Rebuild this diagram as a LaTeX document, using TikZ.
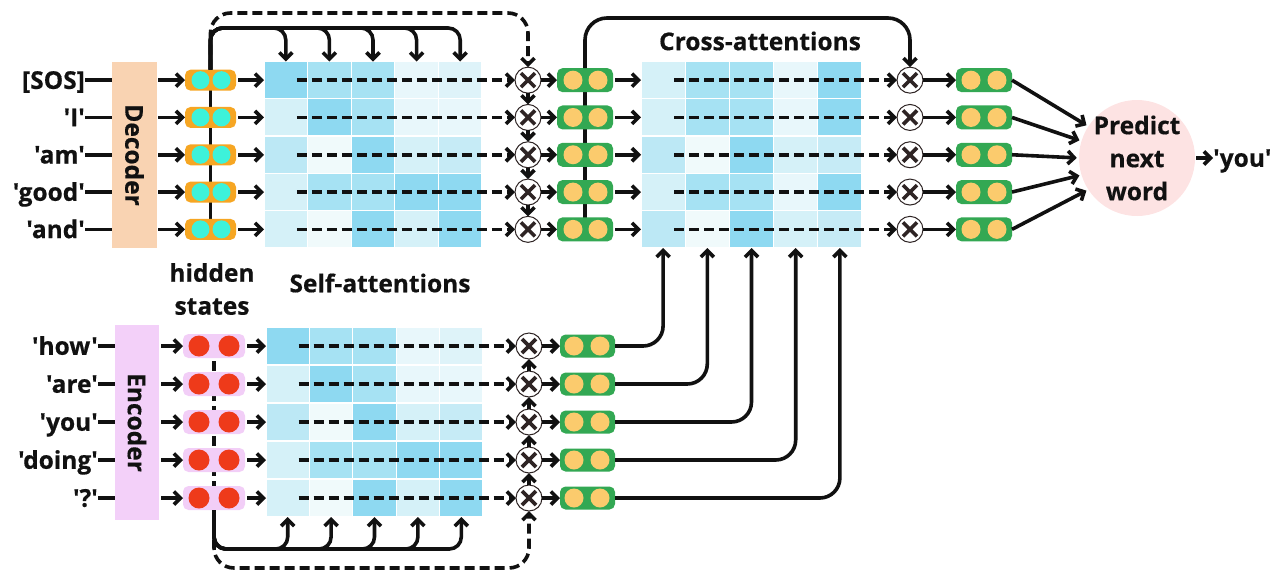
\documentclass[tikz,border=0pt]{standalone}
\usepackage{fontspec}
\newfontfamily\diag{Open Sans}[BoldFeatures={FakeBold=0.5}]
\usetikzlibrary{arrows.meta,calc}
\pgfdeclarelayer{bg}
\pgfsetlayers{bg,main}

% heat-map shades, darkest to lightest
\definecolor{hA}{HTML}{8ED9F1}
\definecolor{hB}{HTML}{A6E2F3}
\definecolor{hC}{HTML}{BCE8F5}
\definecolor{hCb}{HTML}{C6EBF6}
\definecolor{hD}{HTML}{D5F1F8}
\definecolor{hDE}{HTML}{DEF3F9}
\definecolor{hE}{HTML}{E8F7FB}
\definecolor{hF}{HTML}{F0FAFB}
% blocks and vectors
\definecolor{decfill}{HTML}{F9D3B2}
\definecolor{encfill}{HTML}{F3D0F9}
\definecolor{orangepill}{HTML}{F6A623}
\definecolor{cyandot}{HTML}{3DF2DA}
\definecolor{lilacpill}{HTML}{F2CEF7}
\definecolor{reddot}{HTML}{EE3A1A}
\definecolor{greenpill}{HTML}{33A853}
\definecolor{yellowdot}{HTML}{FBCB6D}
\definecolor{predfill}{HTML}{FDE3E3}
\definecolor{ink}{HTML}{111111}
\definecolor{xink}{HTML}{2E2424}

\begin{document}
\begin{tikzpicture}[x=1pt,y=-1pt,
  txt/.style={font=\diag\bfseries\fontsize{24.5}{33}\selectfont, inner sep=0pt, text=ink},
  lbl/.style={txt, anchor=east, text height=17.5pt, text depth=0pt},
  box/.style={rectangle, inner sep=0pt, outer sep=0pt},
  pill/.style={rectangle, rounded corners=5.5pt, inner sep=0pt, outer sep=0pt},
  dot/.style={circle, inner sep=0pt, outer sep=0pt},
  cell/.style={rectangle, inner sep=0pt, outer sep=0pt, draw=white, line width=1.3pt},
  mult/.style={circle, minimum size=26pt, inner sep=0pt, outer sep=0pt, draw=xink, line width=1pt, fill=white,
    path picture={\draw[xink, line width=3.6pt]
      ($(path picture bounding box.center)+(-7,-7)$) -- ($(path picture bounding box.center)+(7,7)$)
      ($(path picture bounding box.center)+(-7,7)$) -- ($(path picture bounding box.center)+(7,-7)$);}},
  ln/.style={draw=ink, line width=3.6pt},
  dln/.style={ln, dash pattern=on 10pt off 5pt},
  arr/.style={ln, -{Straight Barb[length=6.5pt,width=13pt]}},
  darr/.style={arr, dash pattern=on 10pt off 5pt},
]
\useasboundingbox (0,0) rectangle (1272,574);

% levels of the loop lines
\coordinate (dtop) at (0,28);
\coordinate (dloop) at (0,13);
\coordinate (gtop) at (0,18);
\coordinate (ebot) at (0,549);
\coordinate (eloop) at (0,568);

% decoder and encoder blocks
\node[box, fill=decfill, minimum width=45pt, minimum height=186pt] (dec) at (134.5,155) {};
\node[txt, rotate=-90] (dect) at (dec.center) {Decoder};
\node[box, fill=encfill, minimum width=44pt, minimum height=195pt] (enc) at (137,422.5) {};
\node[txt, rotate=-90] (enct) at (enc.center) {Encoder};

% attention heat maps
\foreach \rowcols [count=\r] in {{hA,hB,hB,hE,hDE},{hD,hA,hB,hE,hE},{hC,hF,hA,hD,hCb},{hD,hB,hB,hA,hA},{hD,hF,hA,hD,hA}} {
  \foreach \cc [count=\c] in \rowcols {
    \node[cell, fill=\cc, minimum width=43.6pt, minimum height=37.3pt] (D-\r-\c) at ({264+(\c-0.5)*43.6},{61.5+(\r-0.5)*37.3}) {};
    \node[cell, fill=\cc, minimum width=43.4pt, minimum height=38pt] (E-\r-\c) at ({266+(\c-0.5)*43.4},{327+(\r-0.5)*38}) {};
  }
}
\foreach \rowcols [count=\r] in {{hD,hB,hB,hE,hA},{hD,hB,hB,hE,hA},{hC,hF,hA,hD,hCb},{hD,hB,hB,hE,hA},{hC,hF,hA,hD,hCb}} {
  \foreach \cc [count=\c] in \rowcols {
    \node[cell, fill=\cc, minimum width=44.2pt, minimum height=37.3pt] (C-\r-\c) at ({641+(\c-0.5)*44.2},{61.5+(\r-0.5)*37.3}) {};
  }
}

% decoder rows
\foreach \w [count=\r] in {{[SOS]},'I','am','good','and'} {
  \pgfmathsetmacro{\y}{61.5+(\r-0.5)*37.3}
  \node[lbl] (dl\r) at (85,\y) {\w};
  \node[pill, fill=orangepill, minimum width=51pt, minimum height=21pt] (dp\r) at (210.5,\y) {};
  \node[dot, fill=cyandot, minimum size=18pt] (dpa\r) at (200.5,\y) {};
  \node[dot, fill=cyandot, minimum size=18pt] (dpb\r) at (221.5,\y) {};
  \node[mult] (dm\r) at (528,\y) {};
  \node[pill, fill=greenpill, minimum width=56pt, minimum height=24pt] (dg\r) at (585,\y) {};
  \node[dot, fill=yellowdot, minimum size=19pt] (dga\r) at (573,\y) {};
  \node[dot, fill=yellowdot, minimum size=19pt] (dgb\r) at (598,\y) {};
  \node[mult] (cm\r) at (910,\y) {};
  \node[pill, fill=greenpill, minimum width=56pt, minimum height=24pt] (og\r) at (984,\y) {};
  \node[dot, fill=yellowdot, minimum size=19pt] (oga\r) at (971,\y) {};
  \node[dot, fill=yellowdot, minimum size=19pt] (ogb\r) at (997,\y) {};
}

% encoder rows
\foreach \w [count=\r] in {'how','are','you','doing','?'} {
  \pgfmathsetmacro{\y}{327+(\r-0.5)*38}
  \node[lbl] (el\r) at (98,\y) {\w};
  \node[pill, fill=lilacpill, minimum width=62pt, minimum height=24pt] (ep\r) at (214,\y) {};
  \node[dot, fill=reddot, minimum size=21pt] (epa\r) at (199,\y) {};
  \node[dot, fill=reddot, minimum size=21pt] (epb\r) at (229,\y) {};
  \node[mult] (em\r) at (529,\y) {};
  \node[pill, fill=greenpill, minimum width=55pt, minimum height=23pt] (eg\r) at (587.5,\y) {};
  \node[dot, fill=yellowdot, minimum size=19pt] (ega\r) at (574,\y) {};
  \node[dot, fill=yellowdot, minimum size=19pt] (egb\r) at (600,\y) {};
}

% prediction
\node[circle, fill=predfill, minimum size=116pt, inner sep=0pt] (pred) at (1137,158) {};
\node[txt, align=center] (predt) at (pred.center) {Predict\\next\\word};
\node[txt, anchor=west, text height=17.5pt, text depth=0pt] (you) at (1213,158) {'you'};

% captions
\node[txt, align=center] (hs) at (212,289) {hidden\\states};
\node[txt] (sa) at (380,283) {Self-attentions};
\node[txt] (ca) at (760,41) {Cross-attentions};

% trunks running behind the vectors
\begin{pgfonlayer}{bg}
  \draw[ln] (dp5.center) -- (dp1.north);
  \draw[ln] (dg5.center) -- (dg1.north);
  \draw[dln] (ep1.center) -- (ep5.south);
\end{pgfonlayer}

% per-row connectors
\foreach \r in {1,...,5} {
  \draw[ln] (dl\r.east) -- (dl\r.east -| dec.west);
  \draw[arr, shorten <=1pt] (dec.east |- dp\r.west) -- (dp\r.west);
  \draw[arr, shorten <=2pt] (dp\r.east) -- (D-\r-1.west);
  \draw[darr] ([xshift=11pt]D-\r-1.center) -- (dm\r.west);
  \draw[arr] (dm\r.east) -- (dg\r.west);
  \draw[arr, shorten <=2pt] (dg\r.east) -- (C-\r-1.west);
  \draw[darr] ([xshift=11pt]C-\r-1.center) -- (cm\r.west);
  \draw[arr] (cm\r.east) -- (og\r.west);

  \draw[ln] (el\r.east) -- (el\r.east -| enc.west);
  \draw[arr, shorten <=2pt] (enc.east |- ep\r.west) -- (ep\r.west);
  \draw[arr, shorten <=2pt] (ep\r.east) -- (E-\r-1.west);
  \draw[darr] ([xshift=11pt]E-\r-1.center) -- (em\r.west);
  \draw[arr] (em\r.east) -- (eg\r.west);
  \draw[arr, rounded corners=20pt] (eg\r.east) -- (C-5-\r.south |- eg\r.east) -- (C-5-\r.south);
}

% chained products
\foreach \r [evaluate=\r as \n using int(\r+1)] in {1,...,4} {
  \draw[arr] (dm\r.south) -- (dm\n.north);
  \draw[arr] (em\n.north) -- (em\r.south);
}

% hidden states fanned into every attention column
\foreach \c in {1,...,5} {
  \draw[arr, rounded corners=12pt] (dp1.north) -- (dp1.north |- dtop) -- (D-1-\c.north |- dtop) -- (D-1-\c.north);
  \draw[arr, rounded corners=12pt] (ep5.south) -- (ep5.south |- ebot) -- (E-5-\c.south |- ebot) -- (E-5-\c.south);
}
\draw[darr, rounded corners=20pt] (dp1.north) -- (dp1.north |- dloop) -- (dm1.north |- dloop) -- (dm1.north);
\draw[darr, rounded corners=20pt] (ep5.south) -- (ep5.south |- eloop) -- (em5.south |- eloop) -- (em5.south);
\draw[arr, rounded corners=22pt] (dg1.north) -- (dg1.north |- gtop) -- (cm1.north |- gtop) -- (cm1.north);

% outputs into the predictor
\foreach \r/\a in {1/147,2/163,3/180,4/197,5/213}
  \draw[arr, shorten >=2pt] (og\r.east) -- (pred.\a);
\draw[arr, shorten <=1pt] (pred.east) -- (you.west);
\end{tikzpicture}
\end{document}
